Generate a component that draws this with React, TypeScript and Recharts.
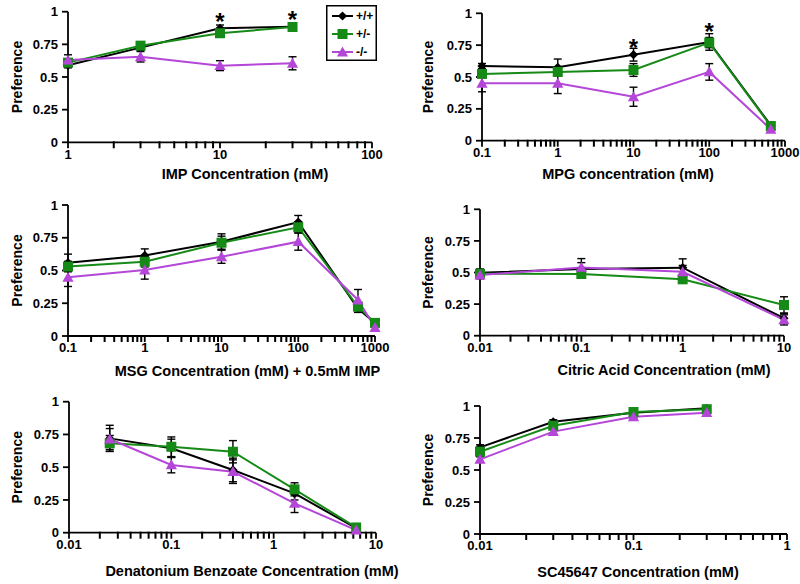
import React from 'react';
import { LineChart, Line, XAxis, YAxis, ErrorBar, Legend } from 'recharts';

const FONT = '"Liberation Sans", Arial, Helvetica, sans-serif';
const BLACK = '#000000';
const GREEN = '#168a16';
const PURPLE = '#b446d8';

const seriesNames = ['+/+', '+/-', '-/-'];
const yTicks = [0, 0.25, 0.5, 0.75, 1];

// ---------- Panel 1: IMP ----------
const impX = [1, 3, 10, 30];
const impWT = [0.59, 0.725, 0.873, 0.885];
const impWTErr = [0.02, 0.02, 0.025, 0.015];
const impHet = [0.61, 0.74, 0.835, 0.883];
const impHetErr = [0.02, 0.025, 0.025, 0.02];
const impKO = [0.63, 0.655, 0.587, 0.605];
const impKOErr = [0.04, 0.04, 0.038, 0.05];
const impStars = [null, null, 0.96, 0.975];
const impDecades = [1, 10, 100];
const impTickLabels = ['1', '10', '100'];

// ---------- Panel 2: MPG ----------
const mpgX = [0.1, 1, 10, 100, 650];
const mpgWT = [0.586, 0.576, 0.675, 0.775, 0.12];
const mpgWTErr = [0.02, 0.065, 0.05, 0.065, 0.02];
const mpgHet = [0.524, 0.54, 0.555, 0.77, 0.115];
const mpgHetErr = [0.02, 0.03, 0.05, 0.04, 0.02];
const mpgKO = [0.45, 0.45, 0.345, 0.54, 0.09];
const mpgKOErr = [0.066, 0.08, 0.075, 0.065, 0.02];
const mpgStars = [null, null, 0.77, 0.895, null];
const mpgDecades = [0.1, 1, 10, 100, 1000];
const mpgTickLabels = ['0.1', '1', '10', '100', '1000'];

// ---------- Panel 3: MSG + IMP ----------
const msgX = [0.1, 1, 10, 100, 600, 1000];
const msgWT = [0.56, 0.615, 0.72, 0.87, 0.21, 0.1];
const msgWTErr = [0.065, 0.05, 0.06, 0.05, 0.03, 0.02];
const msgHet = [0.53, 0.567, 0.712, 0.83, 0.224, 0.1];
const msgHetErr = [0.04, 0.04, 0.05, 0.04, 0.03, 0.02];
const msgKO = [0.448, 0.504, 0.605, 0.72, 0.275, 0.065];
const msgKOErr = [0.07, 0.07, 0.05, 0.065, 0.08, 0.02];
const msgDecades = [0.1, 1, 10, 100, 1000];
const msgTickLabels = ['0.1', '1', '10', '100', '1000'];

// ---------- Panel 4: Citric acid ----------
const citX = [0.01, 0.1, 1, 10];
const citWT = [0.498, 0.528, 0.538, 0.138];
const citWTErr = [0.03, 0.05, 0.07, 0.04];
const citHet = [0.49, 0.488, 0.446, 0.243];
const citHetErr = [0.03, 0.03, 0.03, 0.065];
const citKO = [0.48, 0.54, 0.506, 0.125];
const citKOErr = [0.03, 0.07, 0.05, 0.04];
const citDecades = [0.01, 0.1, 1, 10];
const citTickLabels = ['0.01', '0.1', '1', '10'];

// ---------- Panel 5: Denatonium benzoate ----------
const denX = [0.025, 0.1, 0.4, 1.6, 6.4];
const denWT = [0.72, 0.644, 0.479, 0.3, 0.034];
const denWTErr = [0.1, 0.07, 0.09, 0.05, 0.01];
const denHet = [0.682, 0.656, 0.618, 0.331, 0.04];
const denHetErr = [0.06, 0.075, 0.085, 0.05, 0.01];
const denKO = [0.715, 0.517, 0.466, 0.224, 0.02];
const denKOErr = [0.08, 0.06, 0.09, 0.07, 0.01];
const denDecades = [0.01, 0.1, 1, 10];
const denTickLabels = ['0.01', '0.1', '1', '10'];

// ---------- Panel 6: SC45647 ----------
const scX = [0.01, 0.03, 0.1, 0.3];
const scWT = [0.677, 0.877, 0.948, 0.982];
const scWTErr = [0.02, 0.015, 0.01, 0.01];
const scHet = [0.643, 0.846, 0.953, 0.975];
const scHetErr = [0.02, 0.015, 0.01, 0.01];
const scKO = [0.583, 0.8, 0.916, 0.948];
const scKOErr = [0.02, 0.015, 0.01, 0.01];
const scDecades = [0.01, 0.1, 1];
const scTickLabels = ['0.01', '0.1', '1'];

type Row = {
  x: number; wt?: number; wtE?: number; het?: number; hetE?: number; ko?: number; koE?: number;
  star?: number | null; axis?: number;
};

// series rows + minor log-tick rows (2..9 x each decade, sitting on y = 0), sorted by x
function buildRows(
  decades: number[],
  x: number[], wt: number[], wtE: number[], het: number[], hetE: number[], ko: number[], koE: number[],
  stars?: (number | null)[]
): Row[] {
  const rows: Row[] = x.map((xv, i) => ({
    x: xv, wt: wt[i], wtE: wtE[i], het: het[i], hetE: hetE[i], ko: ko[i], koE: koE[i],
    star: stars ? stars[i] : null,
  }));
  for (let i = 0; i < decades.length - 1; i++) {
    for (let k = 2; k <= 9; k++) rows.push({ x: decades[i] * k, axis: 0 });
  }
  return rows.sort((a, b) => a.x - b.x);
}

type MarkerKind = 'diamond' | 'square' | 'triangle';

function markerShape(kind: MarkerKind, cx: number, cy: number, color: string, key?: string) {
  if (kind === 'diamond') {
    const r = 4.6;
    return <path key={key} d={`M${cx},${cy - r}L${cx + r},${cy}L${cx},${cy + r}L${cx - r},${cy}Z`} fill={color} />;
  }
  if (kind === 'square') {
    const h = 5;
    return <rect key={key} x={cx - h} y={cy - h} width={2 * h} height={2 * h} fill={color} />;
  }
  const w = 5.6;
  return <path key={key} d={`M${cx},${cy - 5.6}L${cx + w},${cy + 4.4}L${cx - w},${cy + 4.4}Z`} fill={color} />;
}

const seriesMarker: Record<string, MarkerKind> = { '+/+': 'diamond', '+/-': 'square', '-/-': 'triangle' };

const okNum = (v: any) => typeof v === 'number' && isFinite(v);

const makeDot = (kind: MarkerKind, color: string) => (p: any) => {
  const key = `m-${kind}-${p.index}`;
  if (!okNum(p.cx) || !okNum(p.cy) || p.value == null) return <g key={key} />;
  return markerShape(kind, p.cx, p.cy, color, key);
};

// minor tick mark drawn at the axis position given by the library's scales
const MinorTickDot = (p: any) => {
  const key = `t-${p.index}`;
  const cx = Number(p.cx);
  const cy = Number(p.cy);
  if (!isFinite(cx) || !isFinite(cy)) return <g key={key} />;
  return <path key={key} d={`M${cx},${cy - 1}V${cy + 6}`} stroke={BLACK} strokeWidth={2} fill="none" />;
};

const StarDot = (p: any) => {
  const key = `s-${p.index}`;
  if (!okNum(p.cx) || !okNum(p.cy) || p.value == null) return <g key={key} />;
  const fs = 24;
  return (
    <text key={key} x={p.cx} y={p.cy + fs * 0.55} textAnchor="middle" fontSize={fs} fontWeight={700} fontFamily={FONT} fill={BLACK}>
      *
    </text>
  );
};

const LegendBox = (props: any) => {
  const payload = (props.payload || []).filter((e: any) => seriesNames.includes(e.value));
  return (
    <svg width={51} height={56} style={{ display: 'block' }}>
      <rect x={0.75} y={0.75} width={49.5} height={54.5} fill="#fff" stroke={BLACK} strokeWidth={1.5} />
      {payload.map((e: any, i: number) => {
        const cy = 11 + i * 18;
        return (
          <g key={e.value}>
            <line x1={6} x2={27} y1={cy} y2={cy} stroke={e.color} strokeWidth={2} />
            {markerShape(seriesMarker[e.value], 16.5, cy, e.color)}
            <text x={30} y={cy} dy="0.35em" fontSize={12} fontWeight={700} fontFamily={FONT} fill={BLACK}>
              {e.value}
            </text>
          </g>
        );
      })}
    </svg>
  );
};

type PanelProps = {
  id: string;
  rows: Row[];
  decades: number[];
  tickLabels: string[];
  x0: number; x1: number; y0: number; y1: number;
  title: string; titleX: number; titleY: number;
  ylabelX: number;
  legend?: boolean;
  stars?: boolean;
};

const Y_AXIS_W = 60;
const X_AXIS_H = 30;

function Panel(p: PanelProps) {
  const fmt = (v: number) => {
    for (let i = 0; i < p.decades.length; i++) {
      if (Math.abs(v - p.decades[i]) < p.decades[i] * 1e-6) return p.tickLabels[i];
    }
    return '';
  };
  const tickStyle = { fill: BLACK, fontSize: 13, fontWeight: 700, fontFamily: FONT };
  const lineStyle = { stroke: BLACK, strokeWidth: 1.8 };
  const yMid = (p.y0 + p.y1) / 2;
  return (
    <LineChart
      width={800}
      height={584}
      data={p.rows}
      margin={{ top: p.y0, left: p.x0 - Y_AXIS_W, right: 800 - p.x1, bottom: 584 - p.y1 - X_AXIS_H }}
    >
      <XAxis
        type="number"
        dataKey="x"
        scale="log"
        domain={[p.decades[0], p.decades[p.decades.length - 1]]}
        ticks={p.decades}
        interval={0}
        tickFormatter={fmt}
        height={X_AXIS_H}
        tickSize={6}
        tickMargin={1}
        axisLine={lineStyle}
        tickLine={lineStyle}
        tick={tickStyle}
        label={() => (
          <text x={p.titleX} y={p.titleY} textAnchor="middle" dominantBaseline="central" fontSize={14.5} fontWeight={700} fontFamily={FONT} fill={BLACK}>
            {p.title}
          </text>
        )}
      />
      <YAxis
        type="number"
        domain={[0, 1]}
        ticks={yTicks}
        interval={0}
        width={Y_AXIS_W}
        tickSize={6}
        tickMargin={4}
        axisLine={lineStyle}
        tickLine={lineStyle}
        tick={tickStyle}
        label={() => (
          <text
            x={p.ylabelX}
            y={yMid}
            transform={`rotate(-90 ${p.ylabelX} ${yMid})`}
            textAnchor="middle"
            dominantBaseline="central"
            fontSize={14}
            fontWeight={700}
            fontFamily={FONT}
            fill={BLACK}
          >
            Preference
          </text>
        )}
      />
      <Line
        dataKey="axis"
        name="minor ticks"
        stroke="none"
        legendType="none"
        dot={MinorTickDot}
        activeDot={false}
        isAnimationActive={false}
      />
      <Line dataKey="wt" name="+/+" stroke={BLACK} strokeWidth={2} connectNulls dot={makeDot('diamond', BLACK)} activeDot={false} isAnimationActive={false}>
        <ErrorBar dataKey="wtE" width={4} stroke={BLACK} strokeWidth={1.4} direction="y" />
      </Line>
      <Line dataKey="het" name="+/-" stroke={GREEN} strokeWidth={2} connectNulls dot={makeDot('square', GREEN)} activeDot={false} isAnimationActive={false}>
        <ErrorBar dataKey="hetE" width={4} stroke={BLACK} strokeWidth={1.4} direction="y" />
      </Line>
      <Line dataKey="ko" name="-/-" stroke={PURPLE} strokeWidth={2} connectNulls dot={makeDot('triangle', PURPLE)} activeDot={false} isAnimationActive={false}>
        <ErrorBar dataKey="koE" width={4} stroke={BLACK} strokeWidth={1.4} direction="y" />
      </Line>
      {p.stars ? (
        <Line dataKey="star" name="star" stroke="none" legendType="none" dot={StarDot} activeDot={false} isAnimationActive={false} />
      ) : null}
      {p.legend ? (
        <Legend
          layout="horizontal"
          verticalAlign="middle"
          align="center"
          content={LegendBox}
          wrapperStyle={{ position: 'absolute', left: 326, top: 5, width: 51, height: 56, margin: 0, padding: 0, lineHeight: 0 }}
        />
      ) : null}
    </LineChart>
  );
}

const panels: PanelProps[] = [
  {
    id: 'imp', rows: buildRows(impDecades, impX, impWT, impWTErr, impHet, impHetErr, impKO, impKOErr, impStars),
    decades: impDecades, tickLabels: impTickLabels,
    x0: 68, x1: 372, y0: 11.7, y1: 142.3,
    title: 'IMP Concentration (mM)', titleX: 245, titleY: 174, ylabelX: 17, legend: true, stars: true,
  },
  {
    id: 'mpg', rows: buildRows(mpgDecades, mpgX, mpgWT, mpgWTErr, mpgHet, mpgHetErr, mpgKO, mpgKOErr, mpgStars),
    decades: mpgDecades, tickLabels: mpgTickLabels,
    x0: 482, x1: 785, y0: 13.3, y1: 140.7,
    title: 'MPG concentration (mM)', titleX: 628, titleY: 174, ylabelX: 428, stars: true,
  },
  {
    id: 'msg', rows: buildRows(msgDecades, msgX, msgWT, msgWTErr, msgHet, msgHetErr, msgKO, msgKOErr),
    decades: msgDecades, tickLabels: msgTickLabels,
    x0: 68, x1: 375, y0: 205, y1: 336,
    title: 'MSG Concentration (mM) + 0.5mM IMP', titleX: 247.5, titleY: 371, ylabelX: 17,
  },
  {
    id: 'cit', rows: buildRows(citDecades, citX, citWT, citWTErr, citHet, citHetErr, citKO, citKOErr),
    decades: citDecades, tickLabels: citTickLabels,
    x0: 480, x1: 784, y0: 209.3, y1: 335.7,
    title: 'Citric Acid Concentration (mM)', titleX: 664, titleY: 370, ylabelX: 428,
  },
  {
    id: 'den', rows: buildRows(denDecades, denX, denWT, denWTErr, denHet, denHetErr, denKO, denKOErr),
    decades: denDecades, tickLabels: denTickLabels,
    x0: 69, x1: 376, y0: 401.7, y1: 532.7,
    title: 'Denatonium Benzoate Concentration (mM)', titleX: 252, titleY: 571, ylabelX: 17,
  },
  {
    id: 'sc', rows: buildRows(scDecades, scX, scWT, scWTErr, scHet, scHetErr, scKO, scKOErr),
    decades: scDecades, tickLabels: scTickLabels,
    x0: 480, x1: 787, y0: 406, y1: 534,
    title: 'SC45647 Concentration (mM)', titleX: 638, titleY: 572, ylabelX: 428,
  },
];

export default function App() {
  return (
    <div style={{ position: 'absolute', left: 0, top: 0, width: 800, height: 584, background: '#fff', overflow: 'hidden' }}>
      {panels.map((p) => (
        <div key={p.id} style={{ position: 'absolute', left: 0, top: 0, width: 800, height: 584 }}>
          <Panel {...p} />
        </div>
      ))}
    </div>
  );
}
